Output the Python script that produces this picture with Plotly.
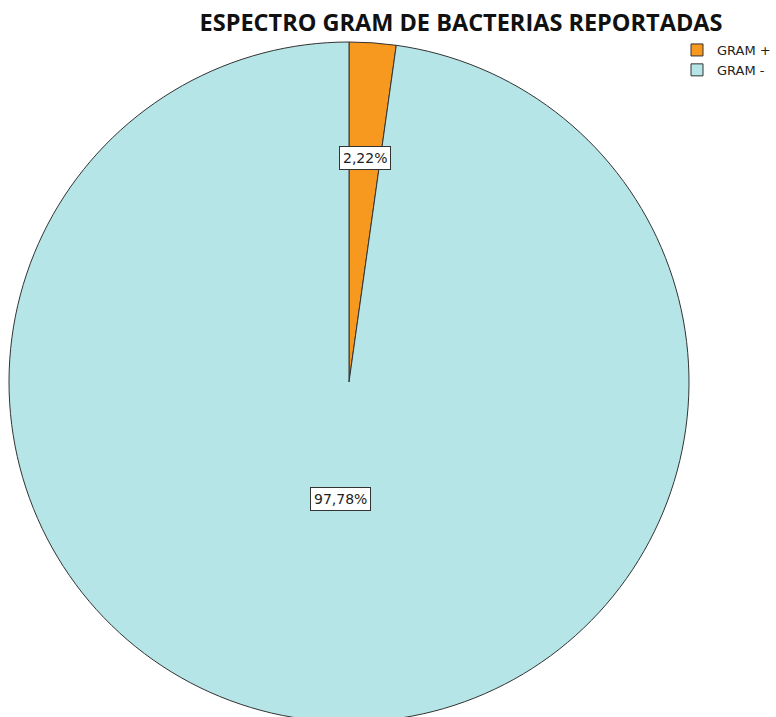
import math
import plotly.graph_objects as go

categories = ["GRAM +", "GRAM -"]
values = [2.22, 97.78]
colors = ["#F7981F", "#B5E5E6"]
label_radius = [0.66, 0.345]

W, H = 776, 740
# pie domain in pixels
left, right, top, bottom = 9, 689, 42, 722
dom_x = [left / W, right / W]
dom_y = [1 - bottom / H, 1 - top / H]

fig = go.Figure()
fig.add_trace(go.Pie(
    labels=categories, values=values, sort=False, direction="clockwise",
    rotation=0, marker=dict(colors=colors, line=dict(color="#333333", width=1)),
    textinfo="none", hoverinfo="label+percent",
    domain=dict(x=dom_x, y=dom_y), showlegend=True,
))

R = (right - left) / 2
cx = (left + right) / 2
cy = (top + bottom) / 2
total = sum(values)
cum = 0
for v, f in zip(values, label_radius):
    mid = (cum + v / 2) / total * 2 * math.pi
    cum += v
    px = cx + f * R * math.sin(mid)
    py = cy - f * R * math.cos(mid)
    fig.add_annotation(
        x=px / W, y=1 - py / H, xref="paper", yref="paper",
        xanchor="center", yanchor="middle",
        text=f"{v:.2f}%".replace(".", ","), showarrow=False,
        font=dict(family="DejaVu Sans", size=14, color="#222222"),
        bgcolor="white", bordercolor="#333333", borderwidth=1, borderpad=3,
    )

fig.update_layout(
    width=W, height=H,
    margin=dict(l=0, r=0, t=0, b=0),
    paper_bgcolor="white", plot_bgcolor="white",
    title=dict(text="<b>ESPECTRO GRAM DE BACTERIAS REPORTADAS</b>",
               x=461 / W, xanchor="center", y=1 - 23 / H, yanchor="middle",
               font=dict(family="Open Sans", size=23.5, color="#111111")),
    legend=dict(x=677 / W, y=1 - 35 / H, xanchor="left", yanchor="top",
                font=dict(family="DejaVu Sans", size=13, color="#222222"),
                bgcolor="rgba(0,0,0,0)", itemwidth=30, tracegroupgap=0),
)

fig.write_html(
    "out.html",
    config={"displayModeBar": False},
    post_script="document.documentElement.style.overflow='hidden';"
                "document.body.style.overflow='hidden';document.body.style.margin='0';",
)
